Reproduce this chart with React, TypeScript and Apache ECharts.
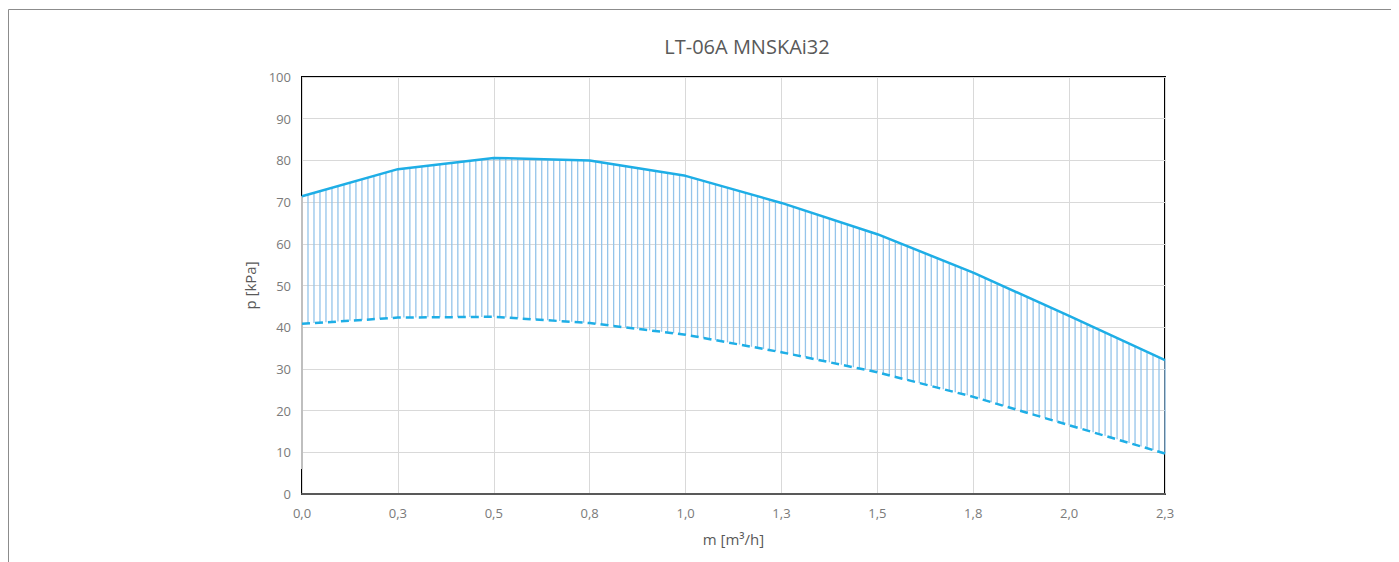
import React, { useEffect, useRef } from "react";
import * as echarts from "echarts";

const titleText = "LT-06A MNSKAi32";
const xValues = [0, 0.25, 0.5, 0.75, 1.0, 1.25, 1.5, 1.75, 2.0, 2.25];
const xTickLabels = ["0,0", "0,3", "0,5", "0,8", "1,0", "1,3", "1,5", "1,8", "2,0", "2,3"];
const upperValues = [71.4, 77.9, 80.6, 80.0, 76.3, 69.8, 62.3, 53.1, 42.7, 32.1];
const lowerValues = [40.8, 42.3, 42.5, 41.0, 38.2, 34.0, 29.2, 23.3, 16.5, 9.7];
const leftEdgeBand = [71.4, 6];
const xAxisName = "m [m³/h]";
const yAxisName = "p [kPa]";

export default function App() {
  const ref = useRef<HTMLDivElement>(null);
  useEffect(() => {
    document.documentElement.style.overflow = "hidden";
    const chart = echarts.init(ref.current!, null, { renderer: "svg" });
    const upper = xValues.map((x, i) => [x, upperValues[i]]);
    const lower = xValues.map((x, i) => [x, lowerValues[i]]);
    const segments = xValues.slice(0, -1).map((x, i) => [
      x, lowerValues[i], upperValues[i], xValues[i + 1], lowerValues[i + 1], upperValues[i + 1],
    ]);
    const xmin = xValues[0];
    const xmax = xValues[xValues.length - 1];
    const nLines = 144;
    const font = "'Open Sans', sans-serif";
    chart.setOption({
      animation: false,
      title: {
        text: titleText,
        left: 734,
        top: 23,
        textAlign: "center",
        textStyle: { fontFamily: font, fontSize: 20, fontWeight: "normal", color: "#595959" },
      },
      graphic: [
        {
          type: "rect",
          shape: { x: 0.5, y: 1.5, width: 1500, height: 1000 },
          style: { fill: "none", stroke: "#8c8c8c", lineWidth: 1 },
          silent: true,
        },
      ],
      grid: {
        left: 294,
        right: 234,
        top: 69,
        bottom: 68,
        show: true,
        borderColor: "#000",
        borderWidth: 2,
        backgroundColor: "transparent",
      },
      xAxis: {
        type: "value",
        min: 0,
        max: 2.25,
        interval: 0.25,
        name: xAxisName,
        nameLocation: "middle",
        nameGap: 37,
        nameTextStyle: { fontFamily: font, fontSize: 15, color: "#595959" },
        axisLine: { show: true, lineStyle: { color: "#595959", width: 2 } },
        axisTick: { show: false },
        axisLabel: {
          margin: 12,
          fontFamily: font,
          fontSize: 13,
          color: "#7a7a7a",
          formatter: (v: number) => xTickLabels[Math.round(v / 0.25)] ?? "",
        },
        splitLine: { show: true, lineStyle: { color: "#d9d9d9", width: 1 } },
      },
      yAxis: {
        type: "value",
        min: 0,
        max: 100,
        interval: 10,
        name: yAxisName,
        nameLocation: "middle",
        nameGap: 45,
        nameRotate: 90,
        nameTextStyle: { fontFamily: font, fontSize: 15, color: "#595959" },
        axisLine: { show: false },
        axisTick: { show: false },
        axisLabel: { margin: 11, fontFamily: font, fontSize: 13, color: "#7a7a7a" },
        splitLine: { show: true, lineStyle: { color: "#d9d9d9", width: 1 } },
      },
      series: [
        {
          type: "custom",
          silent: true,
          data: segments,
          encode: { x: [0, 3], y: [1, 2, 4, 5] },
          renderItem: (params: any, api: any) => {
            const x0 = api.value(0), lo0 = api.value(1), hi0 = api.value(2);
            const x1 = api.value(3), lo1 = api.value(4), hi1 = api.value(5);
            const a0 = api.coord([x0, lo0]);
            const a1 = api.coord([x0, hi0]);
            const b0 = api.coord([x1, lo1]);
            const b1 = api.coord([x1, hi1]);
            const origin = api.coord([xmin, 0])[0];
            const end = api.coord([xmax, 0])[0];
            const step = (end - origin) / nLines;
            const isLast = params.dataIndex === segments.length - 1;
            const children: any[] = [];
            let k = Math.ceil((a0[0] - origin) / step - 1e-6);
            for (; ; k++) {
              const px = origin + k * step;
              if (isLast ? px > b0[0] + 1e-6 : px >= b0[0] - 1e-6) break;
              const t = (px - a0[0]) / (b0[0] - a0[0]);
              const ylo = a0[1] + t * (b0[1] - a0[1]);
              const yhi = a1[1] + t * (b1[1] - a1[1]);
              children.push({
                type: "line",
                shape: { x1: px, y1: ylo, x2: px, y2: yhi },
                style: { stroke: "#94c4ea", lineWidth: 1.3 },
              });
            }
            return { type: "group", children };
          },
          z: 2,
        },
        {
          type: "line",
          data: leftEdgeBand.map((v) => [xmin, v]),
          symbol: "none",
          silent: true,
          lineStyle: { color: "#bfbfbf", width: 2 },
          z: 3,
        },
        {
          type: "line",
          data: lower,
          symbol: "none",
          lineStyle: { color: "#1eaee6", width: 2.5, type: [8, 5] },
          z: 4,
        },
        {
          type: "line",
          data: upper,
          symbol: "none",
          lineStyle: { color: "#1eaee6", width: 2.5 },
          z: 5,
        },
      ],
    });
    return () => chart.dispose();
  }, []);
  return <div ref={ref} style={{ width: 1391, height: 554 }} />;
}
